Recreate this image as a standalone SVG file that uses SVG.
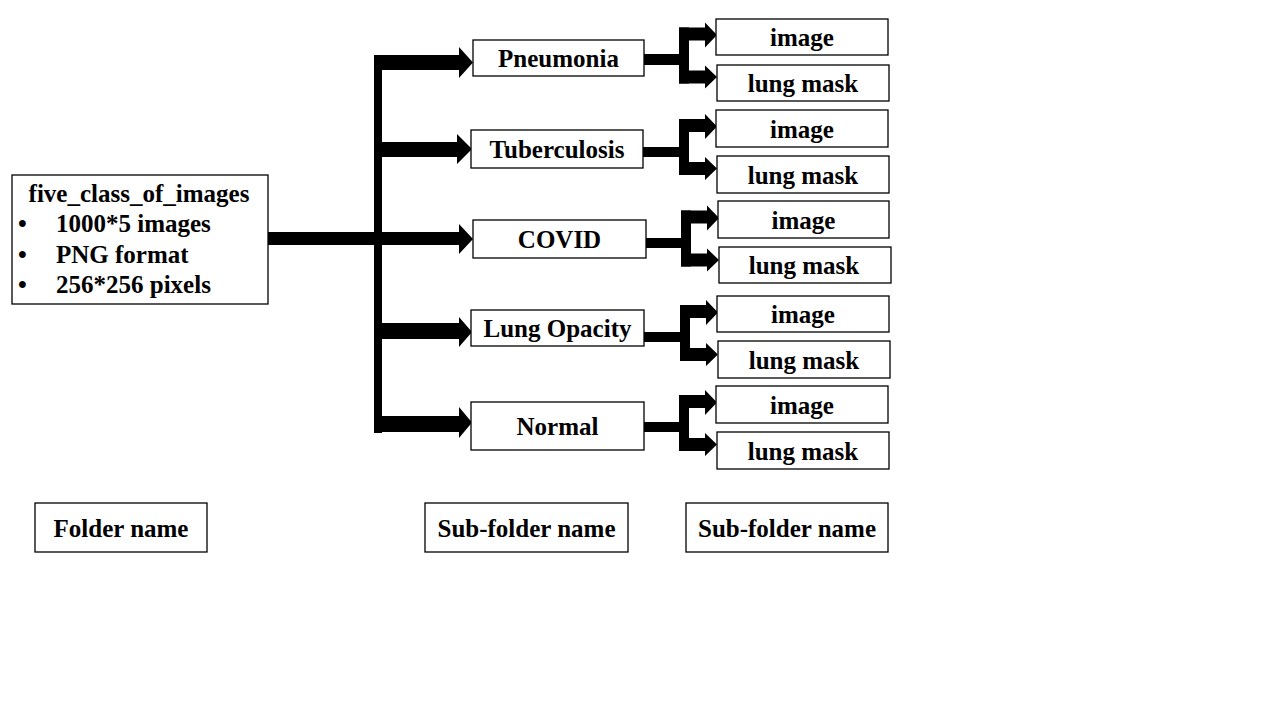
<svg xmlns="http://www.w3.org/2000/svg" width="1280" height="720" viewBox="0 0 1280 720">
<style>
.box{fill:#fff;stroke:#000;stroke-width:1.3}
.t{font-family:"Liberation Serif","Times New Roman",serif;font-weight:bold;font-size:25px;fill:#000;text-anchor:middle}
.tl{font-family:"Liberation Serif","Times New Roman",serif;font-weight:bold;font-size:25px;fill:#000}
.c{fill:#000}
</style>
<defs>
<g id="fork">
<rect x="679" y="-32" width="10" height="56"/>
<path d="M679 -32 H705 V-37 L717 -24.5 L705 -12 V-19 H679 Z"/>
<path d="M679 11 H705 V6 L717 17.5 L705 29 V24 H679 Z"/>
</g>
</defs>
<rect width="1280" height="720" fill="#fff"/>
<g id="connectors" class="c">
<rect x="267" y="232" width="110" height="13"/>
<rect x="374" y="55" width="8" height="378"/>
<path d="M374 55 H459 V47 L473 62.5 L459 78 V70 H374 Z"/>
<path d="M378 142 H457 V134 L472 149 L457 164 V157 H378 Z"/>
<path d="M378 232 H459 V224 L473 239 L459 254 V245 H378 Z"/>
<path d="M378 323 H459 V317 L472 332 L459 347 V339 H378 Z"/>
<path d="M374 416 H459 V407 L472 422.5 L459 438 V432 H374 Z"/>
<rect x="644" y="54" width="40" height="11"/>
<use href="#fork" transform="translate(0,59.5)"/>
<rect x="643" y="147" width="40" height="10"/>
<use href="#fork" transform="translate(0,151)"/>
<rect x="646" y="238" width="40" height="10"/>
<use href="#fork" transform="translate(2,242.5)"/>
<rect x="644" y="332" width="40" height="10"/>
<use href="#fork" transform="translate(1,337)"/>
<rect x="644" y="422" width="40" height="10"/>
<use href="#fork" transform="translate(0,427)"/>
</g>
<g id="root">
<rect class="box" x="12" y="175" width="256" height="129"/>
<text class="t" x="139" y="202">five_class_of_images</text>
<text class="tl" x="18" y="232">•</text>
<text class="tl" x="56" y="232">1000*5 images</text>
<text class="tl" x="18" y="263">•</text>
<text class="tl" x="56" y="263">PNG format</text>
<text class="tl" x="18" y="293">•</text>
<text class="tl" x="56" y="293">256*256 pixels</text>
</g>
<g id="pneumonia"><rect class="box" x="473" y="40" width="171" height="36"/><text class="t" x="558.5" y="67">Pneumonia</text></g>
<g id="tuberculosis"><rect class="box" x="471" y="130" width="172" height="38"/><text class="t" x="557" y="158">Tuberculosis</text></g>
<g id="covid"><rect class="box" x="473" y="220" width="173" height="38"/><text class="t" x="559.5" y="248">COVID</text></g>
<g id="lung-opacity"><rect class="box" x="471" y="310" width="173" height="36"/><text class="t" x="557.5" y="337">Lung Opacity</text></g>
<g id="normal"><rect class="box" x="471" y="402" width="173" height="48"/><text class="t" x="557.5" y="435">Normal</text></g>
<g id="pneumonia-image"><rect class="box" x="716" y="19" width="172" height="36"/><text class="t" x="802" y="46">image</text></g>
<g id="pneumonia-mask"><rect class="box" x="717" y="65" width="172" height="36"/><text class="t" x="803" y="92">lung mask</text></g>
<g id="tuberculosis-image"><rect class="box" x="716" y="110" width="172" height="37"/><text class="t" x="802" y="137.5">image</text></g>
<g id="tuberculosis-mask"><rect class="box" x="717" y="156" width="172" height="37"/><text class="t" x="803" y="183.5">lung mask</text></g>
<g id="covid-image"><rect class="box" x="718" y="201" width="171" height="37"/><text class="t" x="803.5" y="228.5">image</text></g>
<g id="covid-mask"><rect class="box" x="719" y="247" width="172" height="36"/><text class="t" x="804" y="274">lung mask</text></g>
<g id="opacity-image"><rect class="box" x="717" y="296" width="172" height="36"/><text class="t" x="803" y="323">image</text></g>
<g id="opacity-mask"><rect class="box" x="718" y="341" width="172" height="37"/><text class="t" x="804" y="368.5">lung mask</text></g>
<g id="normal-image"><rect class="box" x="716" y="386" width="172" height="37"/><text class="t" x="802" y="413.5">image</text></g>
<g id="normal-mask"><rect class="box" x="717" y="432" width="172" height="37"/><text class="t" x="803" y="459.5">lung mask</text></g>
<g id="legend-folder"><rect class="box" x="35" y="503" width="172" height="49"/><text class="t" x="121" y="536.5">Folder name</text></g>
<g id="legend-subfolder-1"><rect class="box" x="425" y="503" width="203" height="49"/><text class="t" x="526.5" y="536.5">Sub-folder name</text></g>
<g id="legend-subfolder-2"><rect class="box" x="686" y="503" width="202" height="49"/><text class="t" x="787" y="536.5">Sub-folder name</text></g>
</svg>
